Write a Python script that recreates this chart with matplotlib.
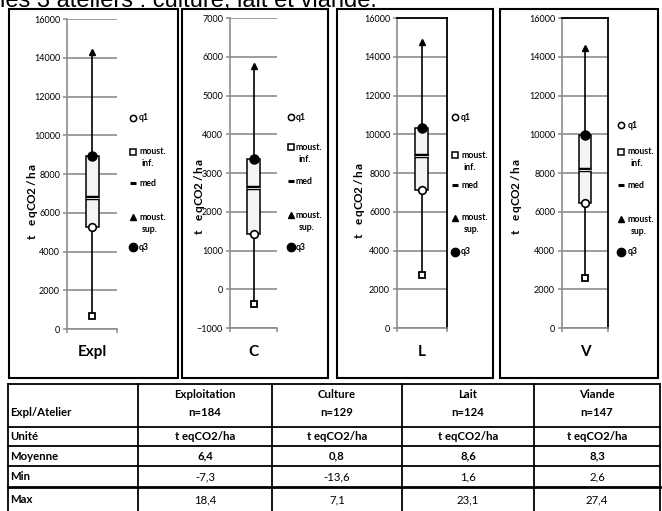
import matplotlib
matplotlib.use("Agg")
import matplotlib.pyplot as plt
from matplotlib.patches import Rectangle

W, H = 662, 511

# box plot values (t eqCO2/ha * 1000)
cats = ["Expl", "C", "L", "V"]
moust_inf = [670, -380, 2740, 2580]
q1 = [5250, 1420, 7120, 6450]
med = [6750, 2610, 8880, 8150]
q3 = [8950, 3360, 10320, 9960]
moust_sup = [14300, 5750, 14750, 14450]
y_ranges = [(0, 16000, 2000), (-1000, 7000, 1000), (0, 16000, 2000), (0, 16000, 2000)]
unit = "t eqCO2/ha"
leg_labels = ["q1", "moust.\ninf.", "med", "moust.\nsup.", "q3"]

# table under the charts
tab_head = ["Expl/Atelier", "Exploitation\nn=184", "Culture\nn=129", "Lait\nn=124", "Viande\nn=147"]
tab_unit = ["Unité", "t eqCO2/ha", "t eqCO2/ha", "t eqCO2/ha", "t eqCO2/ha"]
tab_moy = ["Moyenne", "6,4", "0,8", "8,6", "8,3"]
tab_min = ["Min", "-7,3", "-13,6", "1,6", "2,6"]
tab_max = ["Max", "18,4", "7,1", "23,1", "27,4"]

# layout in pixels
frames = [(9, 178), (182, 328), (337, 493), (500, 658)]
ax_boxes = [(67, 117, 19, 329), (230, 277, 18, 328), (397, 447, 18, 328), (562, 608, 18, 328)]
boxed = [False, False, True, True]
leg_pos = [(133, 139, [118, 152, 183, 217, 247]),
           (291, 296, [117, 147, 181, 215, 247]),
           (455, 461, [117, 155, 185, 218, 252]),
           (621, 628, [125, 152, 185, 219, 252])]
ylab_pos = [(32, 237), (199, 232), (359, 236), (516, 232)]

font = "Lato"
grey = "#8c8c8c"

fig = plt.figure(figsize=(W / 100, H / 100), dpi=100)

for i in range(4):
    x0, x1, y0, y1 = ax_boxes[i]
    ax = fig.add_axes([x0 / W, 1 - y1 / H, (x1 - x0) / W, (y1 - y0) / H])
    lo, hi, st = y_ranges[i]
    ax.set_xlim(0, 1)
    ax.set_ylim(lo, hi)
    ax.set_yticks(range(lo, hi + 1, st))
    ax.set_xticks([0, 1])
    ax.set_xticklabels([])
    ax.grid(axis="y", color=grey, lw=1.2)
    ax.set_axisbelow(True)
    ax.tick_params(axis="y", length=3, color=grey, width=1.1, labelsize=6.5, pad=2)
    ax.tick_params(axis="x", length=3, color=grey, width=1.1)
    for lab in ax.get_yticklabels():
        lab.set_fontfamily(font)
    ax.spines["left"].set_color(grey)
    ax.spines["bottom"].set_color(grey)
    ax.spines["left"].set_linewidth(1.2)
    ax.spines["bottom"].set_linewidth(1.2)
    for s in ["top", "right"]:
        if boxed[i]:
            ax.spines[s].set_color("black")
            ax.spines[s].set_linewidth(1.3)
        else:
            ax.spines[s].set_visible(False)

    # whisker, box, median, markers
    ax.plot([0.5, 0.5], [moust_inf[i], moust_sup[i]], color="black", lw=1.2, zorder=3)
    ax.bar(0.5, q3[i] - q1[i], bottom=q1[i], width=0.26, color="#f4f4f4",
           edgecolor="black", lw=1.1, zorder=4)
    ax.plot([0.37, 0.63], [med[i], med[i]], color="black", lw=3.2,
            solid_capstyle="butt", zorder=5)
    ax.plot([0.37, 0.63], [med[i], med[i]], color="#dddddd", lw=0.7,
            solid_capstyle="butt", zorder=6)
    ax.plot(0.5, moust_sup[i], marker="^", color="black", ms=5, zorder=7)
    ax.plot(0.5, q3[i], marker="o", color="black", ms=6.5, zorder=7)
    ax.plot(0.5, q1[i], marker="o", mfc="white", mec="black", mew=1.2, ms=5.5, zorder=7)
    ax.plot(0.5, moust_inf[i], marker="s", mfc="white", mec="black", mew=1.3, ms=4.5, zorder=7)

# overlay in pixel coordinates for frames, legends, labels and table
ov = fig.add_axes([0, 0, 1, 1], zorder=10)
ov.set_xlim(0, W)
ov.set_ylim(H, 0)
ov.axis("off")

ov.text(0, 7, "les 3 ateliers : culture, lait et viande.", fontsize=17,
        family="Liberation Sans", va="baseline", ha="left")

for i in range(4):
    fx0, fx1 = frames[i]
    ov.add_patch(Rectangle((fx0, 9), fx1 - fx0, 369, fill=False, ec="black", lw=1.5))
    x0, x1, y0, y1 = ax_boxes[i]
    ov.text((x0 + x1) / 2, 352, cats[i], fontsize=11, fontweight="bold",
            family=font, ha="center", va="center")

    # stacked y label
    lx, ly = ylab_pos[i]
    for k, ch in enumerate(unit):
        ov.text(lx, ly - k * 7.8, ch, fontsize=8.5, fontweight="bold", family=font,
                rotation=90, ha="center", va="center")

    # legend
    mx, tx, ys = leg_pos[i]
    kinds = [dict(marker="o", mfc="white", mec="black", mew=1.1, ms=4.5),
             dict(marker="s", mfc="white", mec="black", mew=1.1, ms=4),
             None,
             dict(marker="^", color="black", ms=4.5),
             dict(marker="o", color="black", ms=6)]
    for k in range(5):
        y = ys[k]
        if kinds[k] is None:
            ov.plot([mx - 3, mx + 3], [y, y], color="black", lw=2.2, solid_capstyle="butt")
        else:
            ov.plot(mx, y, linestyle="none", **kinds[k])
        parts = leg_labels[k].split("\n")
        ov.text(tx, y, parts[0], fontsize=6.3, fontweight="bold", family=font,
                ha="left", va="center")
        if len(parts) > 1:
            ov.text(tx + 3, y + 12, parts[1], fontsize=6.3, fontweight="bold",
                    family=font, ha="left", va="center")

# table
col_x = [8, 138, 272, 402, 534, 660]
row_y = [384, 427, 446, 466, 487]
for y in row_y:
    ov.plot([col_x[0], col_x[-1]], [y, y], color="black", lw=2 if y == 487 else 1.3)
for x in col_x:
    ov.plot([x, x], [row_y[0], H + 2], color="black", lw=1.3)

fs = 8.2
rows = [(tab_unit, 436.5, True), (tab_moy, 456, True), (tab_min, 476.5, False), (tab_max, 499.5, False)]
ov.text(10, 412, tab_head[0], fontsize=fs, fontweight="bold", family=font, va="center")
for j in range(1, 5):
    cx = (col_x[j] + col_x[j + 1]) / 2
    name, n = tab_head[j].split("\n")
    ov.text(cx, 394, name, fontsize=fs, fontweight="bold", family=font, ha="center", va="center")
    ov.text(cx, 412, n, fontsize=fs, fontweight="bold", family=font, ha="center", va="center")
for vals, y, bold in rows:
    ov.text(10, y, vals[0], fontsize=fs, fontweight="bold", family=font, va="center")
    for j in range(1, 5):
        cx = (col_x[j] + col_x[j + 1]) / 2
        ov.text(cx, y, vals[j], fontsize=fs, fontweight="bold" if bold else "normal",
                family=font, ha="center", va="center")

fig.savefig("out.png", dpi=100)
